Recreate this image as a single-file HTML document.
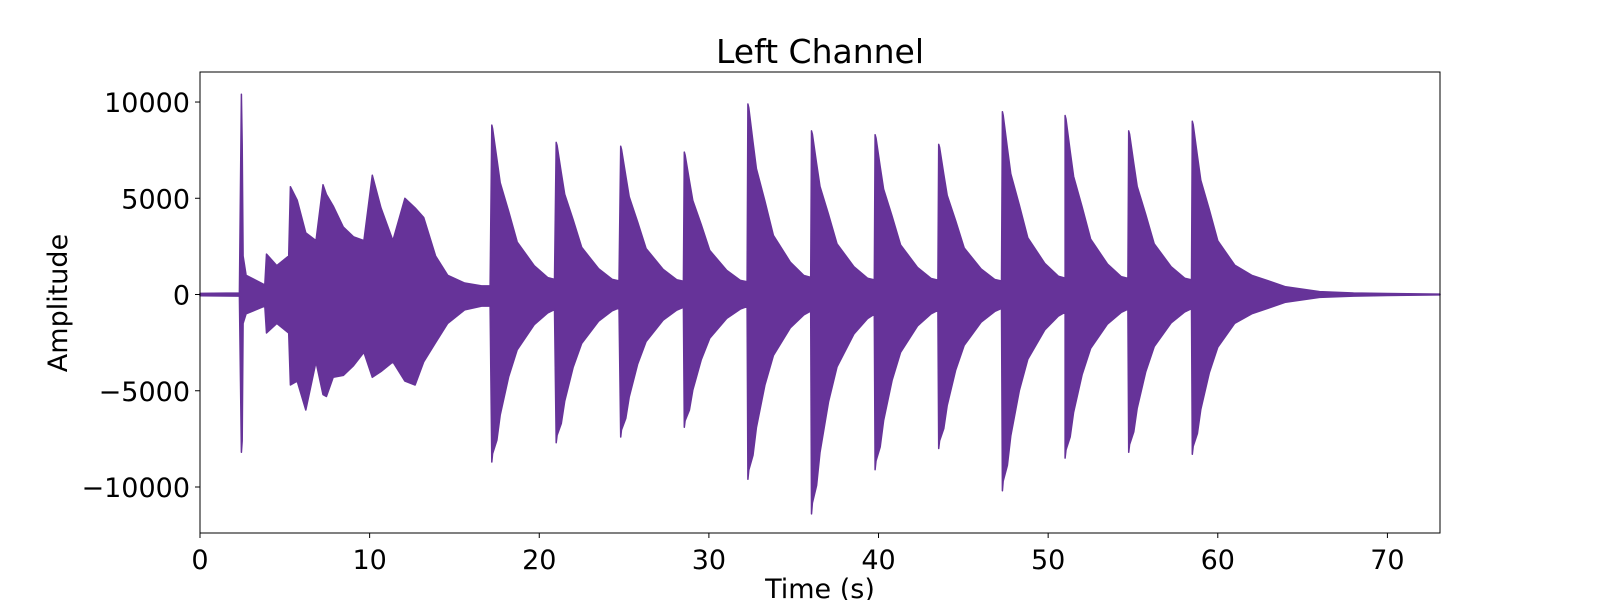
<!DOCTYPE html>
<html><head><meta charset="utf-8"><style>
html,body{margin:0;padding:0;background:#fff;overflow:hidden;width:1600px;height:600px}
svg{display:block;font-family:"DejaVu Sans","Liberation Sans",sans-serif}
</style></head><body>
<svg id="chart" width="1600" height="600" viewBox="0 0 1600 600">
<text x="820" y="63" font-size="33" text-anchor="middle">Left Channel</text>
<g id="plot"></g>
<g id="axes"></g>
<text x="820" y="598" font-size="27" text-anchor="middle">Time (s)</text>
<text transform="translate(67,303) rotate(-90)" font-size="27" text-anchor="middle">Amplitude</text>
</svg>
<script>
// Early section envelope (time s, max, min)
const introTimes = [0, 2.32, 2.44, 2.49, 2.54, 2.72, 3.82, 3.92, 4.53, 5.23, 5.33, 5.73, 6.24, 6.84, 7.25, 7.45, 7.85, 8.45, 9.05, 9.66, 10.16, 10.67, 11.37, 12.08, 12.68, 13.19, 13.89, 14.6, 15.6, 16.6, 17.1];
const introUpper = [60, 80, 10400, 7800, 2000, 1000, 500, 2100, 1500, 2000, 5600, 4900, 3200, 2800, 5700, 5200, 4600, 3500, 3000, 2800, 6200, 4500, 2800, 5000, 4500, 4000, 2000, 1000, 600, 450, 450];
const introLower = [-60, -80, -8200, -7600, -1500, -1000, -600, -2000, -1500, -2000, -4700, -4500, -6000, -3500, -5200, -5300, -4300, -4200, -3700, -3000, -4300, -4000, -3500, -4500, -4700, -3500, -2500, -1500, -800, -600, -600];
// Strike onsets
const strikeTimes = [17.2, 21.0, 24.8, 28.55, 32.3, 36.05, 39.8, 43.55, 47.3, 51.0, 54.75, 58.5];
const strikePeaks = [8800, 7900, 7700, 7400, 9900, 8500, 8300, 7800, 9500, 9300, 8500, 9000];
const strikeTroughs = [-8700, -7700, -7400, -6900, -9600, -11400, -9100, -8000, -10200, -8500, -8200, -8300];
// Decay profile after each strike
const decayOffsets = [0.05, 0.3, 0.5, 1.0, 1.5, 2.5, 3.3, 3.7];
const decayUpperRatio = [0.98, 0.8, 0.66, 0.49, 0.31, 0.17, 0.1, 0.09];
const decayLowerRatio = [0.95, 0.87, 0.72, 0.49, 0.33, 0.18, 0.11, 0.09];
// Tail after last strike
const tailTimes = [62, 63, 64, 66, 68, 70, 73.1];
const tailUpper = [1000, 700, 400, 150, 80, 50, 20];
const tailLower = [-1000, -700, -400, -150, -80, -50, -20];
const xTicks = [0, 10, 20, 30, 40, 50, 60, 70];
const yTicks = [-10000, -5000, 0, 5000, 10000];

const L = 200, R = 1440, T = 72, B = 533;
const xMin = 0, xMax = 73.1, yMin = -12390, yMax = 11560;
const xs = t => L + (t - xMin) / (xMax - xMin) * (R - L);
const ys = v => B - (v - yMin) / (yMax - yMin) * (B - T);

let times = [...introTimes], up = [...introUpper], lo = [...introLower];
strikeTimes.forEach((t, i) => {
  times.push(t); up.push(strikePeaks[i]); lo.push(strikeTroughs[i]);
  const n = i < strikeTimes.length - 1 ? decayOffsets.length : 6;
  for (let j = 0; j < n; j++) {
    times.push(t + decayOffsets[j]); up.push(strikePeaks[i] * decayUpperRatio[j]); lo.push(strikeTroughs[i] * decayLowerRatio[j]);
  }
});
times.push(...tailTimes); up.push(...tailUpper); lo.push(...tailLower);

const NS = "http://www.w3.org/2000/svg";
const plot = document.getElementById('plot');
let d = 'M' + times.map((t, i) => xs(t).toFixed(1) + ',' + ys(up[i]).toFixed(1)).join(' L');
for (let i = times.length - 1; i >= 0; i--) d += ' L' + xs(times[i]).toFixed(1) + ',' + ys(lo[i]).toFixed(1);
d += 'Z';
const p = document.createElementNS(NS, 'path');
p.setAttribute('d', d); p.setAttribute('fill', '#663399'); p.setAttribute('stroke', '#663399'); p.setAttribute('stroke-width', '1.5'); p.setAttribute('stroke-linejoin', 'round');


plot.appendChild(p);

const axes = document.getElementById('axes');
const frame = document.createElementNS(NS, 'rect');
frame.setAttribute('x', L); frame.setAttribute('y', T); frame.setAttribute('width', R - L); frame.setAttribute('height', B - T);
frame.setAttribute('fill', 'none'); frame.setAttribute('stroke', '#000'); frame.setAttribute('stroke-width', '1');


axes.appendChild(frame);
xTicks.forEach(v => {
  const x = xs(v);
  const ln = document.createElementNS(NS, 'line');
  ln.setAttribute('x1', x); ln.setAttribute('x2', x); ln.setAttribute('y1', B); ln.setAttribute('y2', B + 5); ln.setAttribute('stroke', '#000');
  
  
  axes.appendChild(ln);
  const tx = document.createElementNS(NS, 'text');
  tx.setAttribute('x', x); tx.setAttribute('y', B + 36); tx.setAttribute('font-size', '27'); tx.setAttribute('text-anchor', 'middle');
  tx.textContent = v;
  
  
  axes.appendChild(tx);
});
yTicks.forEach(v => {
  const y = ys(v);
  const ln = document.createElementNS(NS, 'line');
  ln.setAttribute('x1', L - 5); ln.setAttribute('x2', L); ln.setAttribute('y1', y); ln.setAttribute('y2', y); ln.setAttribute('stroke', '#000');
  
  
  axes.appendChild(ln);
  const tx = document.createElementNS(NS, 'text');
  tx.setAttribute('x', L - 10); tx.setAttribute('y', y + 10); tx.setAttribute('font-size', '27'); tx.setAttribute('text-anchor', 'end');
  tx.textContent = v < 0 ? '\u2212' + Math.abs(v) : String(v);
  
  
  axes.appendChild(tx);
});
</script>
</body></html>
